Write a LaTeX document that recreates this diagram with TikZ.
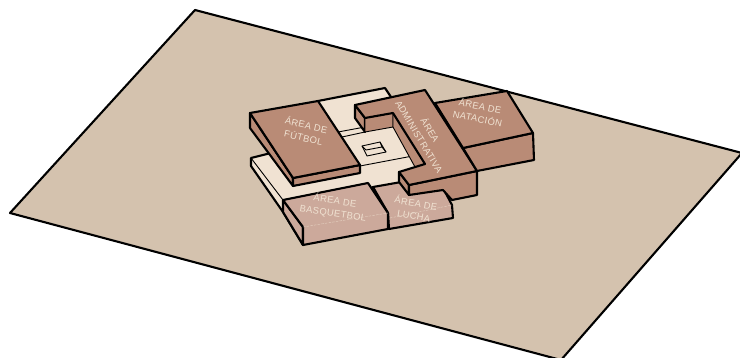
\documentclass[tikz,border=0pt]{standalone}
\usepackage{fontspec}
\setmainfont[LetterSpace=4]{Liberation Sans}
\definecolor{ground}{HTML}{D4C2AE}
\definecolor{topc}{HTML}{B98B76}
\definecolor{pale}{HTML}{F0E2D2}
\definecolor{court}{HTML}{CCA99B}
\begin{document}
\begin{tikzpicture}[
  x=1pt, y=-1pt,
  font=\fontsize{9.4}{12.8}\selectfont,
  heavy/.style={draw=black, line width=2.1pt, line join=round},
  fine/.style={draw=black, line width=0.9pt, line join=round},
  seam/.style={draw=pale!70!court, line width=0.4pt, dash pattern=on 2.5pt off 1.2pt},
  lbl/.style={text=pale, align=center, inner sep=0pt}
]
\useasboundingbox (0,0) rectangle (740,358);
% ground
\draw[heavy, fill=ground] (195,10) -- (742,153) -- (561,360) -- (10,213) -- cycle;
% base slab
\draw[heavy, fill=pale] (251,158) -- (275,152) -- (420,165) -- (409,195) -- (373,187) -- (303,245) -- (283,212) -- (251,166) -- cycle;
\draw[fine] (251,158) -- (283,200);
% upper floor
\fill[pale] (250,113) -- (385,88) -- (425,164) -- (399,172) -- (360,174) -- (293,186) -- cycle;
\draw[heavy] (318,101) -- (385,88) -- (393,100);
\draw[fine] (338,132) -- (365,127);
\draw[fine] (342,137) -- (365,132);
\draw[fine] (360,166) -- (418,155);
% central well
\draw[fine] (362,146) -- (380,142) -- (386,152) -- (367,156) -- cycle;
\draw[fine] (362,146) -- (366,150) -- (382,147) -- (386,152);
\draw[fine] (380,142) -- (382,147);
% futbol
\draw[heavy, fill=topc] (250,113) -- (293,178) -- (293,186) -- (250,128) -- cycle;
\draw[heavy, fill=topc] (293,178) -- (360,165) -- (360,173) -- (293,186) -- cycle;
\draw[heavy, fill=topc] (250,113) -- (318,101) -- (360,165) -- (293,178) -- cycle;
% lucha
\draw[heavy, fill=court] (373,187) -- (407,181) -- (443,188) -- (452,205) -- (453,218) -- (389,229) -- (388,213) -- cycle;
\draw[seam] (390,218) -- (452,205);
% administrativa
\draw[heavy, fill=topc] (355,105) -- (365,118) -- (365,132) -- (355,118) -- cycle;
\draw[fine, fill=topc] (365,118) -- (393,113) -- (393,127) -- (365,132) -- cycle;
\draw[fine, fill=topc] (393,113) -- (425,164) -- (415,167) -- (393,127) -- cycle;
\draw[heavy, fill=topc] (399,172) -- (409,185) -- (409,195) -- (399,182) -- cycle;
\draw[heavy, fill=topc] (409,185) -- (477,171) -- (477,195) -- (452,200) -- (443,190) -- (409,195) -- cycle;
\draw[heavy, fill=topc] (355,105) -- (425,90) -- (477,171) -- (409,185) -- (399,172) -- (425,164) -- (393,113) -- (365,118) -- cycle;
% natacion
\draw[heavy, fill=topc] (463,148) -- (533,133) -- (534,160) -- (477,171) -- cycle;
\draw[heavy, fill=topc] (435,103) -- (507,91) -- (533,133) -- (463,148) -- cycle;
% basquetbol
\draw[heavy, fill=court] (283,200) -- (303,227) -- (303,245) -- (283,212) -- cycle;
\draw[heavy, fill=court] (283,200) -- (368,183) -- (388,213) -- (388,229) -- (303,245) -- (303,227) -- cycle;
\draw[seam] (303,227) -- (388,213);
% labels
\node[lbl, rotate=-13] (futbol) at (305,131) {ÁREA DE\\FÚTBOL};
\node[lbl, rotate=-59] (admin) at (425,133) {ÁREA\\ADMINISTRATIVA};
\node[lbl, rotate=-12] (natacion) at (479,112) {ÁREA DE\\NATACIÓN};
\node[lbl, rotate=-9] (basquetbol) at (334,207) {ÁREA DE\\BASQUETBOL};
\node[lbl, rotate=-10] (lucha) at (415,209) {ÁREA DE\\LUCHA};
\end{tikzpicture}
\end{document}
